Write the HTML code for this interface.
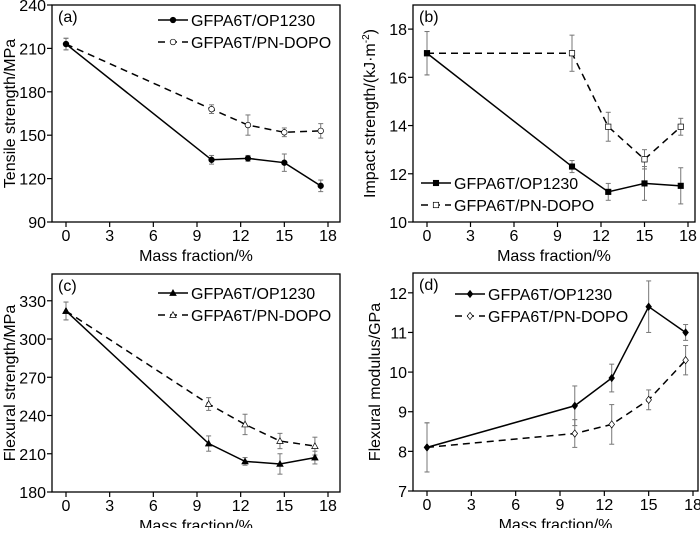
<!DOCTYPE html>
<html><head><meta charset="utf-8"><style>
body{margin:0;background:#fff;width:700px;height:528px;overflow:hidden}
svg{font-family:"Liberation Sans",Arial,sans-serif}
</style></head><body>
<svg id="c" width="700" height="528"></svg>
<script>
const xA=[0,10,12.5,15,17.5];
const aOP=[213,133,134,131,115], aOPe=[4,3,2,6,4];
const aPN=[213,168,157,152,153], aPNe=[4,3,7,3,5];
const bOP=[17,12.3,11.25,11.6,11.5], bOPe=[0.9,0.25,0.35,0.7,0.75];
const bPN=[17,17,13.95,12.6,13.95], bPNe=[0.9,0.75,0.6,0.4,0.35];
const xC=[0,9.8,12.3,14.7,17.1];
const cOP=[322,218,204,202,207], cOPe=[7,6,3,8,5];
const cPN=[322,249,233,220,216], cPNe=[7,5,8,6,7];
const dOP=[8.1,9.15,9.85,11.65,11.0], dOPe=[0.62,0.5,0.35,0.65,0.2];
const dPN=[8.1,8.45,8.68,9.3,10.3], dPNe=[0.62,0.35,0.5,0.25,0.37];
const xTicks=[0,3,6,9,12,15,18];
const aTicks=[90,120,150,180,210,240];
const bTicks=[10,12,14,16,18];
const cTicks=[180,210,240,270,300,330];
const dTicks=[7,8,9,10,11,12];
const legendNames=["GFPA6T/OP1230","GFPA6T/PN-DOPO"];

const svg=document.getElementById('c');
const NS='http://www.w3.org/2000/svg';
function mk(t,a,p){const e=document.createElementNS(NS,t);for(const k in a)e.setAttribute(k,a[k]);(p||svg).appendChild(e);return e;}
function marker(g,shape,cx,cy,fill){
  let e;
  if(shape==='circle')e=mk('circle',{cx:cx,cy:cy,r:2.8,fill:fill,stroke:'#000','stroke-width':0.7},g);
  else if(shape==='square')e=mk('rect',{x:cx-2.7,y:cy-2.7,width:5.4,height:5.4,fill:fill,stroke:'#000','stroke-width':0.7},g);
  else if(shape==='tri')e=mk('polygon',{points:`${cx},${cy-3.3} ${cx-3.2},${cy+2.5} ${cx+3.2},${cy+2.5}`,fill:fill,stroke:'#000','stroke-width':0.7},g);
  else e=mk('polygon',{points:`${cx},${cy-3.6} ${cx+2.8},${cy} ${cx},${cy+3.6} ${cx-2.8},${cy}`,fill:fill,stroke:'#000','stroke-width':0.7},g);
  return e;
}
function panel(p){
  const g=mk('g',{});
  
  
  const X=v=>p.x0+(v-0)/18*(p.x18-p.x0);
  const Y=v=>p.bottom-(v-p.ymin)/(p.ymax-p.ymin)*(p.bottom-p.top);
  const fr=mk('rect',{x:p.L,y:p.top,width:p.R-p.L,height:p.bottom-p.top,fill:'none',stroke:'#000','stroke-width':1.3},g);
  
  xTicks.forEach(t=>{
    mk('line',{x1:X(t),x2:X(t),y1:p.bottom,y2:p.bottom+5,stroke:'#000','stroke-width':1.2},g);
    const tx=mk('text',{x:X(t),y:p.bottom+19,'font-size':16,'text-anchor':'middle'},g);tx.textContent=t;
    
  });
  p.yt.forEach(t=>{
    mk('line',{x1:p.L-5,x2:p.L,y1:Y(t),y2:Y(t),stroke:'#000','stroke-width':1.2},g);
    const tx=mk('text',{x:p.L-6,y:Y(t)+6,'font-size':16,'text-anchor':'end'},g);tx.textContent=t;
    
  });
  const xt=mk('text',{x:(p.L+p.R)/2,y:p.bottom+39,'font-size':16,'text-anchor':'middle'},g);xt.textContent='Mass fraction/%';
  
  const cy=(p.top+p.bottom)/2;
  const yt=mk('text',{x:p.ytx,y:cy,'font-size':16,'text-anchor':'middle',transform:`rotate(-90 ${p.ytx} ${cy})`},g);
  yt.innerHTML=p.ytitle;
  
  const pl=mk('text',{x:p.L+6,y:p.top+17,'font-size':16},g);pl.textContent='('+p.id+')';
  
  [[p.s2,p.e2,'dash','#fff'],[p.s1,p.e1,'solid','#000']].forEach(([s,e,st,fill])=>{
    const sg=mk('g',{},g);
    
    
    s.forEach((v,i)=>{
      const x=X(p.xs[i]),y1=Y(v+e[i]),y2=Y(v-e[i]);
      mk('line',{x1:x,x2:x,y1:y1,y2:y2,stroke:'#777','stroke-width':1},sg);
      mk('line',{x1:x-2.5,x2:x+2.5,y1:y1,y2:y1,stroke:'#777','stroke-width':1},sg);
      mk('line',{x1:x-2.5,x2:x+2.5,y1:y2,y2:y2,stroke:'#777','stroke-width':1},sg);
    });
    const ln=mk('polyline',{points:s.map((v,i)=>X(p.xs[i])+','+Y(v)).join(' '),fill:'none',stroke:'#000','stroke-width':1.5,'stroke-dasharray':st==='dash'?'7,5':'none'},sg);
    
    s.forEach((v,i)=>{const m=marker(sg,p.shape,X(p.xs[i]),Y(v),fill);
      });
  });
  const lg=mk('g',{},g);
  
  [0,1].forEach(k=>{
    const y=p.ly+k*22;
    mk('line',{x1:p.lx,x2:p.lx+30,y1:y,y2:y,stroke:'#000','stroke-width':1.5,'stroke-dasharray':k?'7,5':'none'},lg);
    marker(lg,p.shape,p.lx+15,y,k?'#fff':'#000');
    const t=mk('text',{x:p.lx+33,y:y+6,'font-size':16},lg);t.textContent=legendNames[k];
    
  });
}
panel({id:'a',L:52,R:340,top:5,bottom:222,x0:66,x18:328,ymin:90,ymax:240,yt:aTicks,xs:xA,s1:aOP,e1:aOPe,s2:aPN,e2:aPNe,shape:'circle',ytitle:'Tensile strength/MPa',ytx:15,lx:158,ly:20});
panel({id:'b',L:413,R:695,top:5,bottom:222,x0:427,x18:688,ymin:10,ymax:19,yt:bTicks,xs:xA,s1:bOP,e1:bOPe,s2:bPN,e2:bPNe,shape:'square',ytitle:'Impact strength/(kJ·m<tspan dy="-6" font-size="10">-2</tspan><tspan dy="6">)</tspan>',ytx:375,lx:421,ly:183});
panel({id:'c',L:52,R:340,top:274,bottom:492,x0:66,x18:328,ymin:180,ymax:351,yt:cTicks,xs:xC,s1:cOP,e1:cOPe,s2:cPN,e2:cPNe,shape:'tri',ytitle:'Flexural strength/MPa',ytx:15,lx:158,ly:293});
panel({id:'d',L:413,R:698,top:273,bottom:491,x0:427,x18:693,ymin:7,ymax:12.5,yt:dTicks,xs:xA,s1:dOP,e1:dOPe,s2:dPN,e2:dPNe,shape:'diamond',ytitle:'Flexural modulus/GPa',ytx:380,lx:455,ly:294});
</script>
</body></html>
